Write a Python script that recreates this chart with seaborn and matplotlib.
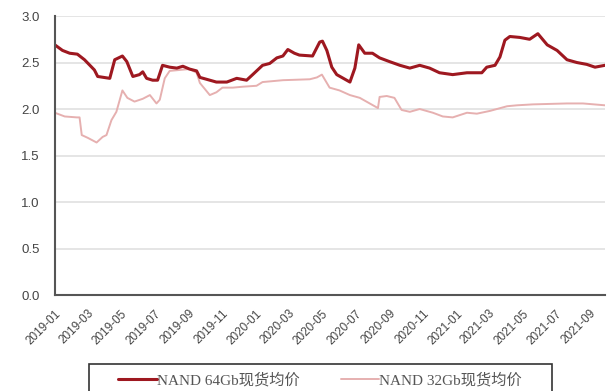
import numpy as np
import pandas as pd
import matplotlib
matplotlib.use("Agg")
from matplotlib import pyplot as plt
from matplotlib.patches import Rectangle
import seaborn as sns

# NAND 64Gb spot price
dates_64 = ["2019-01-01", "2019-01-15", "2019-01-28", "2019-02-11", "2019-02-24", "2019-03-14",
            "2019-03-20", "2019-04-11", "2019-04-20", "2019-05-04", "2019-05-12", "2019-05-23",
            "2019-06-04", "2019-06-10", "2019-06-17", "2019-06-28", "2019-07-07", "2019-07-16",
            "2019-07-29", "2019-08-11", "2019-08-22", "2019-09-03", "2019-09-16", "2019-09-22",
            "2019-10-10", "2019-10-22", "2019-11-10", "2019-11-28", "2019-12-16", "2019-12-27",
            "2020-01-14", "2020-01-27", "2020-02-09", "2020-02-20", "2020-02-29", "2020-03-12",
            "2020-03-21", "2020-04-14", "2020-04-27", "2020-05-02", "2020-05-10", "2020-05-19",
            "2020-05-28", "2020-06-15", "2020-06-21", "2020-06-30", "2020-07-07", "2020-07-18",
            "2020-08-01", "2020-08-14", "2020-09-01", "2020-09-20", "2020-10-08", "2020-10-26",
            "2020-11-13", "2020-12-01", "2020-12-25", "2021-01-20", "2021-02-16", "2021-02-25",
            "2021-03-12", "2021-03-21", "2021-03-30", "2021-04-08", "2021-04-26", "2021-05-14",
            "2021-05-29", "2021-06-15", "2021-07-03", "2021-07-21", "2021-08-08", "2021-08-26",
            "2021-09-10", "2021-09-28"]
price_64 = [2.69, 2.63, 2.60, 2.59, 2.53, 2.42,
            2.35, 2.33, 2.53, 2.57, 2.51, 2.35,
            2.37, 2.40, 2.33, 2.31, 2.31, 2.47,
            2.45, 2.44, 2.46, 2.43, 2.41, 2.34,
            2.31, 2.29, 2.29, 2.33, 2.31, 2.37,
            2.47, 2.49, 2.55, 2.57, 2.64, 2.60,
            2.58, 2.57, 2.72, 2.73, 2.63, 2.45,
            2.37, 2.31, 2.29, 2.44, 2.69, 2.60,
            2.60, 2.55, 2.51, 2.47, 2.44, 2.47,
            2.44, 2.39, 2.37, 2.39, 2.39, 2.45,
            2.47, 2.56, 2.74, 2.78, 2.77, 2.75,
            2.81, 2.69, 2.63, 2.53, 2.50, 2.48,
            2.45, 2.47]

# NAND 32Gb spot price
dates_32 = ["2019-01-01", "2019-01-19", "2019-02-10", "2019-02-15", "2019-02-19", "2019-03-02",
            "2019-03-18", "2019-03-29", "2019-04-05", "2019-04-14", "2019-04-23", "2019-05-04",
            "2019-05-13", "2019-05-26", "2019-06-10", "2019-06-23", "2019-07-05", "2019-07-11",
            "2019-07-20", "2019-07-29", "2019-08-16", "2019-09-03", "2019-09-16", "2019-09-22",
            "2019-10-10", "2019-10-22", "2019-11-02", "2019-11-21", "2019-12-09", "2020-01-03",
            "2020-01-14", "2020-02-20", "2020-04-09", "2020-04-22", "2020-05-01", "2020-05-15",
            "2020-06-02", "2020-06-21", "2020-07-09", "2020-07-27", "2020-08-11", "2020-08-14",
            "2020-08-27", "2020-09-10", "2020-09-23", "2020-10-08", "2020-10-26", "2020-11-19",
            "2020-12-07", "2020-12-25", "2021-01-20", "2021-02-07", "2021-03-03", "2021-04-03",
            "2021-04-21", "2021-05-20", "2021-07-21", "2021-08-19", "2021-09-28"]
price_32 = [1.96, 1.92, 1.91, 1.91, 1.72, 1.69,
            1.64, 1.70, 1.72, 1.88, 1.97, 2.20,
            2.12, 2.08, 2.11, 2.15, 2.06, 2.10,
            2.33, 2.41, 2.42, 2.43, 2.39, 2.28,
            2.15, 2.18, 2.23, 2.23, 2.24, 2.25,
            2.29, 2.31, 2.32, 2.34, 2.37, 2.23,
            2.20, 2.15, 2.12, 2.06, 2.01, 2.13,
            2.14, 2.12, 1.99, 1.97, 2.00, 1.96,
            1.92, 1.91, 1.96, 1.95, 1.98, 2.03,
            2.04, 2.05, 2.06, 2.06, 2.04]

label_64 = "NAND 64Gb现货均价"
label_32 = "NAND 32Gb现货均价"
tick_labels = ["2019-01", "2019-03", "2019-05", "2019-07", "2019-09", "2019-11",
               "2020-01", "2020-03", "2020-05", "2020-07", "2020-09", "2020-11",
               "2021-01", "2021-03", "2021-05", "2021-07", "2021-09"]

df64 = pd.DataFrame({"date": pd.to_datetime(dates_64), "price": price_64})
df32 = pd.DataFrame({"date": pd.to_datetime(dates_32), "price": price_32})

sns.set_style("white")
plt.rcParams['font.family'] = ['Liberation Sans', 'Noto Sans CJK SC']

fig = plt.figure(figsize=(6.16, 3.91), dpi=100)
ax = fig.add_axes([0.089, 0.2455, 0.893, 0.7135])

sns.lineplot(x="date", y="price", data=df32, ax=ax, color='#e6b0b0', linewidth=1.4, label=label_32)
sns.lineplot(x="date", y="price", data=df64, ax=ax, color='#9e1820', linewidth=2.2, label=label_64)

ax.set_ylim(0, 3.0)
ax.set_yticks(np.arange(0, 3.01, 0.5))
ax.set_yticklabels([f"{v:.1f}" for v in np.arange(0, 3.01, 0.5)])
ax.set_xlim(pd.Timestamp("2019-01-01"), pd.Timestamp("2021-09-28"))
ax.set_xticks(pd.to_datetime([t + "-01" for t in tick_labels]))
ax.set_xticklabels(tick_labels, rotation=45, ha='right', rotation_mode='anchor')
ax.set_xlabel('')
ax.set_ylabel('')

ax.yaxis.grid(True, color='#e0e0e0', linewidth=1.2)
ax.set_axisbelow(True)
for s in ['top', 'right']:
    ax.spines[s].set_visible(False)
for s in ['left', 'bottom']:
    ax.spines[s].set_color('#555555')
    ax.spines[s].set_linewidth(1.5)
ax.tick_params(axis='y', length=3, width=1.2, color='#555555', labelsize=9.5, labelcolor='#444444', pad=8)
ax.tick_params(axis='x', length=0, labelsize=8.5, labelcolor='#444444', pad=9)

handles, labels = ax.get_legend_handles_labels()
ax.get_legend().remove()
leg = fig.legend(handles[::-1], labels[::-1], loc='center', bbox_to_anchor=(0.5195, 0.028),
                 ncol=2, frameon=False, handlelength=2.5, handletextpad=0.0, columnspacing=2.7,
                 prop={'family': ['Liberation Serif', 'Noto Sans CJK SC'], 'size': 11})
for t in leg.get_texts():
    t.set_color('#555555')

# legend box, cut by the lower edge as in the source
fig.patches.append(Rectangle((0.1445, -0.05), 0.7516, 0.119, transform=fig.transFigure,
                             fill=False, edgecolor='#333333', linewidth=1.2, clip_on=False))

plt.savefig('out.png', dpi=100)
